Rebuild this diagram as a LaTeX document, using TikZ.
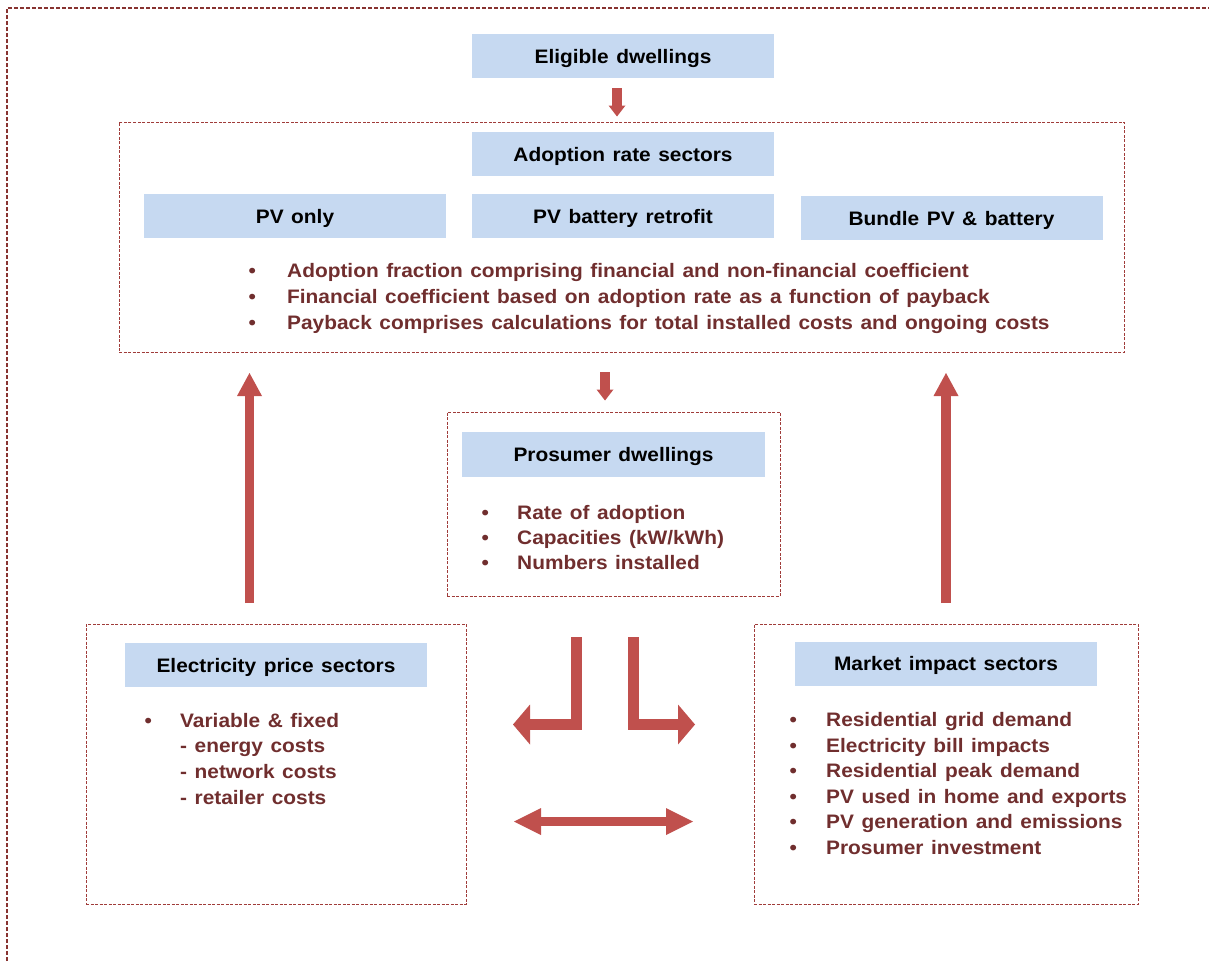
\documentclass[tikz,border=0pt]{standalone}
\usepackage{fontspec}
\setmainfont{Liberation Sans}[FakeStretch=1.07,WordSpace=1.3]
\usetikzlibrary{arrows.meta}
\definecolor{boxblue}{RGB}{198,217,241}
\definecolor{arrowred}{RGB}{192,80,77}
\definecolor{textred}{RGB}{112,46,46}
\definecolor{dashred}{RGB}{160,60,58}
% bullet followed by a fixed indent
\newcommand\itm[1]{\makebox[#1][l]{•}}
\tikzset{
  smallhead/.tip={Triangle[length=11pt,width=17pt,line width=0pt]},
  uphead/.tip={Triangle[length=23pt,width=25pt,line width=0pt]},
  benthead/.tip={Triangle[length=17pt,width=40pt,line width=0pt]},
  dblhead/.tip={Triangle[length=27pt,width=27pt,line width=0pt]},
}
\begin{document}
\begin{tikzpicture}[x=1pt,y=-1pt,
  every node/.style={inner sep=0pt,font=\fontsize{19.5}{25.6}\selectfont\bfseries},
  titlebox/.style={fill=boxblue,minimum width=302pt,minimum height=44pt,text=black,
    text height=14pt,text depth=0pt},
  frame/.style={draw=dashred,line width=1pt,dash pattern=on 3pt off 1.5pt},
  outerframe/.style={draw=dashred!85!black,line width=1.1pt,dash pattern=on 4pt off 2pt},
  list/.style={anchor=base west,text=textred,align=left},
  redshaft/.style={draw=arrowred,line width=#1,line join=miter,line cap=butt},
]
\useasboundingbox (0,0) rectangle (1209,961);

% outer frame (only its top and left sides fall inside the page)
\draw[outerframe] (7,961) -- (7,8) -- (1209,8);

% containers
\node[frame,minimum width=1005pt,minimum height=230pt] (adopt) at (621.5,237) {};
\node[frame,minimum width=333pt,minimum height=184pt] (pros) at (613.5,504) {};
\node[frame,minimum width=380pt,minimum height=280pt] (elec) at (276,764) {};
\node[frame,minimum width=384pt,minimum height=280pt] (mkt) at (946,764) {};

% headings
\node[titlebox] (elig) at (623,56) {Eligible dwellings};
\node[titlebox] (rate) at (623,154) {Adoption rate sectors};
\node[titlebox] (pvonly) at (295,216) {PV only};
\node[titlebox] (retro) at (623,216) {PV battery retrofit};
\node[titlebox] (bundle) at (951.5,218) {Bundle PV \& battery};
\node[titlebox,minimum width=303pt,minimum height=45pt] (prost) at (613.5,454.5) {Prosumer dwellings};
\node[titlebox] (elect) at (276,665) {Electricity price sectors};
\node[titlebox] (mktt) at (946,663.5) {Market impact sectors};

% bullet lists
\node[list] (adoptlist) at (248.5,277.3) {\fontsize{19.5}{26}\selectfont
  \begin{tabular}[t]{@{}l@{}}
  \itm{38.5pt}Adoption fraction comprising financial and non-financial coefficient\\
  \itm{38.5pt}Financial coefficient based on adoption rate as a function of payback\\
  \itm{38.5pt}Payback comprises calculations for total installed costs and ongoing costs
  \end{tabular}};
\node[list] (proslist) at (481.5,519) {\fontsize{19.5}{25}\selectfont
  \begin{tabular}[t]{@{}l@{}}
  \itm{35.5pt}Rate of adoption\\
  \itm{35.5pt}Capacities (kW/kWh)\\
  \itm{35.5pt}Numbers installed
  \end{tabular}};
\node[list] (eleclist) at (144.5,727) {\fontsize{19.5}{25.8}\selectfont
  \begin{tabular}[t]{@{}l@{}}
  \itm{35.5pt}Variable \& fixed\\
  \hspace*{35.5pt}- energy costs\\
  \hspace*{35.5pt}- network costs\\
  \hspace*{35.5pt}- retailer costs
  \end{tabular}};
\node[list] (mktlist) at (789.3,726.7) {\fontsize{19.5}{25.5}\selectfont
  \begin{tabular}[t]{@{}l@{}}
  \itm{36.7pt}Residential grid demand\\
  \itm{36.7pt}Electricity bill impacts\\
  \itm{36.7pt}Residential peak demand\\
  \itm{36.7pt}PV used in home and exports\\
  \itm{36.7pt}PV generation and emissions\\
  \itm{36.7pt}Prosumer investment
  \end{tabular}};

% arrow end points
\coordinate (e1a) at (617,88);    \coordinate (e1b) at (617,116.5);
\coordinate (e2a) at (605,372);   \coordinate (e2b) at (605,400.5);
\coordinate (upLa) at (249.5,603); \coordinate (upLb) at (249.5,373);
\coordinate (upRa) at (946,603);   \coordinate (upRb) at (946,373);
\coordinate (bLa) at (576.5,637);  \coordinate (bLc) at (576.5,724.5); \coordinate (bLb) at (513,724.5);
\coordinate (bRa) at (633.5,637);  \coordinate (bRc) at (633.5,724.5); \coordinate (bRb) at (695,724.5);
\coordinate (dA) at (514,821.5);   \coordinate (dB) at (693,821.5);

% block arrows
\draw[redshaft=10pt,-{smallhead}] (e1a) -- (e1b);
\draw[redshaft=10pt,-{smallhead}] (e2a) -- (e2b);
\draw[redshaft=9.5pt,-{uphead}] (upLa) -- (upLb);
\draw[redshaft=9.5pt,-{uphead}] (upRa) -- (upRb);
\draw[redshaft=11pt,-{benthead}] (bLa) -- (bLc) -- (bLb);
\draw[redshaft=11pt,-{benthead}] (bRa) -- (bRc) -- (bRb);
\draw[redshaft=8.5pt,{dblhead}-{dblhead}] (dA) -- (dB);
\end{tikzpicture}
\end{document}
